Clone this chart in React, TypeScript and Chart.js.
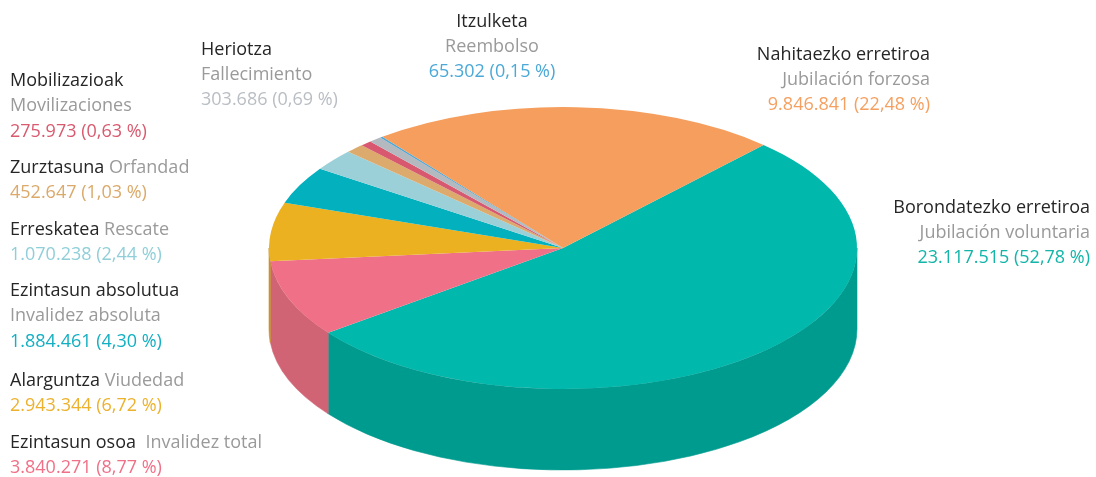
import React, { useEffect, useRef } from 'react';
import { Chart, registerables } from 'chart.js';

Chart.register(...registerables);

// ---- data (clockwise order starting from the big slice) ----
const basqueNames = [
  'Borondatezko erretiroa',
  'Ezintasun osoa',
  'Alarguntza',
  'Ezintasun absolutua',
  'Erreskatea',
  'Zurztasuna',
  'Mobilizazioak',
  'Heriotza',
  'Itzulketa',
  'Nahitaezko erretiroa',
];
const spanishNames = [
  'Jubilación voluntaria',
  'Invalidez total',
  'Viudedad',
  'Invalidez absoluta',
  'Rescate',
  'Orfandad',
  'Movilizaciones',
  'Fallecimiento',
  'Reembolso',
  'Jubilación forzosa',
];
const values = [23117515, 3840271, 2943344, 1884461, 1070238, 452647, 275973, 303686, 65302, 9846841];
const valueLabels = [
  '23.117.515 (52,78 %)',
  '3.840.271 (8,77 %)',
  '2.943.344 (6,72 %)',
  '1.884.461 (4,30 %)',
  '1.070.238 (2,44 %)',
  '452.647 (1,03 %)',
  '275.973 (0,63 %)',
  '303.686 (0,69 %)',
  '65.302 (0,15 %)',
  '9.846.841 (22,48 %)',
];

// ---- styles ----
const topColors = ['#00b8ab', '#f07087', '#ebb121', '#03b0bd', '#9bd0d8', '#dcaa6c', '#d85870', '#b4b9bf', '#4aa8d8', '#f59e5d'];
const sideColors = ['#009b8f', '#d06374', '#c99529', '#02949f', '#85b3ba', '#bd925c', '#b94b60', '#9a9ea4', '#3f90b9', '#d3884f'];
const valueColors = ['#12b5a8', '#f07087', '#ecb22e', '#13afc2', '#90cfd9', '#dba96a', '#d85a6f', '#b9bec4', '#4ba9d7', '#f5a060'];

type LabelLayout = { align: 'left' | 'right' | 'center'; x: number; top: number; inline: boolean; sep?: string };
const labelLayout: LabelLayout[] = [
  { align: 'right', x: 1090, top: 193.7, inline: false },
  { align: 'left', x: 10, top: 428.7, inline: true, sep: '  ' },
  { align: 'left', x: 10, top: 367.1, inline: true },
  { align: 'left', x: 10, top: 277.1, inline: false },
  { align: 'left', x: 10, top: 215.5, inline: true },
  { align: 'left', x: 10, top: 153.7, inline: true },
  { align: 'left', x: 10, top: 67.1, inline: false },
  { align: 'left', x: 201, top: 35.5, inline: false },
  { align: 'center', x: 492, top: 7.7, inline: false },
  { align: 'right', x: 930, top: 40.5, inline: false },
];

const W = 1096;
const H = 477;
const CX = 563;
const CY = 248;
const RX = 294;
const RY = 141;
const DEPTH = 81;
const ROTATION = 43;

const pie3d = {
  id: 'pie3d',
  beforeDatasetsDraw(chart: any) {
    const meta = chart.getDatasetMeta(0);
    const arcs = meta.data;
    if (!arcs.length) return;
    const ctx = chart.ctx;
    const p0 = arcs[0].getProps(['x', 'y', 'outerRadius'], true);
    // side walls (front half only)
    arcs.forEach((arc: any, i: number) => {
      const { startAngle, endAngle } = arc.getProps(['startAngle', 'endAngle'], true);
      for (let n = -1; n <= 1; n++) {
        const lo = Math.max(startAngle, 2 * Math.PI * n);
        const hi = Math.min(endAngle, 2 * Math.PI * n + Math.PI);
        if (hi <= lo) continue;
        ctx.save();
        ctx.beginPath();
        ctx.ellipse(CX, CY, RX, RY, 0, lo, hi, false);
        ctx.ellipse(CX, CY + DEPTH, RX, RY, 0, hi, lo, true);
        ctx.closePath();
        ctx.fillStyle = sideColors[i];
        ctx.strokeStyle = sideColors[i];
        ctx.lineWidth = 0.6;
        ctx.fill();
        ctx.stroke();
        ctx.restore();
      }
    });
    // squash the top face into an ellipse
    ctx.save();
    ctx.translate(CX, CY);
    ctx.scale(RX / p0.outerRadius, RY / p0.outerRadius);
    ctx.translate(-p0.x, -p0.y);
  },
  afterDatasetsDraw(chart: any) {
    chart.ctx.restore();
  },
};

function Label({ i }: { i: number }) {
  const l = labelLayout[i];
  const style: React.CSSProperties = {
    position: 'absolute',
    top: l.top,
    whiteSpace: 'pre',
    textAlign: l.align,
  };
  if (l.align === 'left') style.left = l.x;
  else if (l.align === 'right') style.right = W - l.x;
  else {
    style.left = l.x;
    style.transform = 'translateX(-50%)';
  }
  const basque = <span style={{ color: '#262626' }}>{basqueNames[i]}</span>;
  const spanish = <span style={{ color: '#9a9a9a' }}>{spanishNames[i]}</span>;
  return (
    <div style={style}>
      {l.inline ? (
        <div>
          {basque}
          {l.sep ?? ' '}
          {spanish}
        </div>
      ) : (
        <>
          <div>{basque}</div>
          <div>{spanish}</div>
        </>
      )}
      <div style={{ color: valueColors[i] }}>{valueLabels[i]}</div>
    </div>
  );
}

export default function App() {
  const ref = useRef<HTMLCanvasElement>(null);
  useEffect(() => {
    if (!ref.current) return;
    const chart = new Chart(ref.current, {
      type: 'pie',
      data: {
        labels: basqueNames,
        datasets: [
          {
            data: values,
            backgroundColor: topColors,
            borderWidth: 0,
            clip: false,
          } as any,
        ],
      },
      options: {
        animation: false,
        responsive: false,
        rotation: ROTATION,
        events: [],
        layout: { padding: 0 },
        plugins: {
          legend: { display: false },
          tooltip: { enabled: false },
        },
      },
      plugins: [pie3d],
    });
    return () => chart.destroy();
  }, []);

  return (
    <div
      style={{
        position: 'fixed',
        left: 0,
        top: 0,
        width: W,
        height: H,
        background: '#fff',
        fontFamily: '"Open Sans", sans-serif',
        fontSize: 18,
        lineHeight: '25.3px',
        overflow: 'hidden',
      }}
    >
      <canvas ref={ref} width={W} height={H} style={{ position: 'absolute', left: 0, top: 0, width: W, height: H }} />
      {values.map((_, i) => (
        <Label key={i} i={i} />
      ))}
    </div>
  );
}
